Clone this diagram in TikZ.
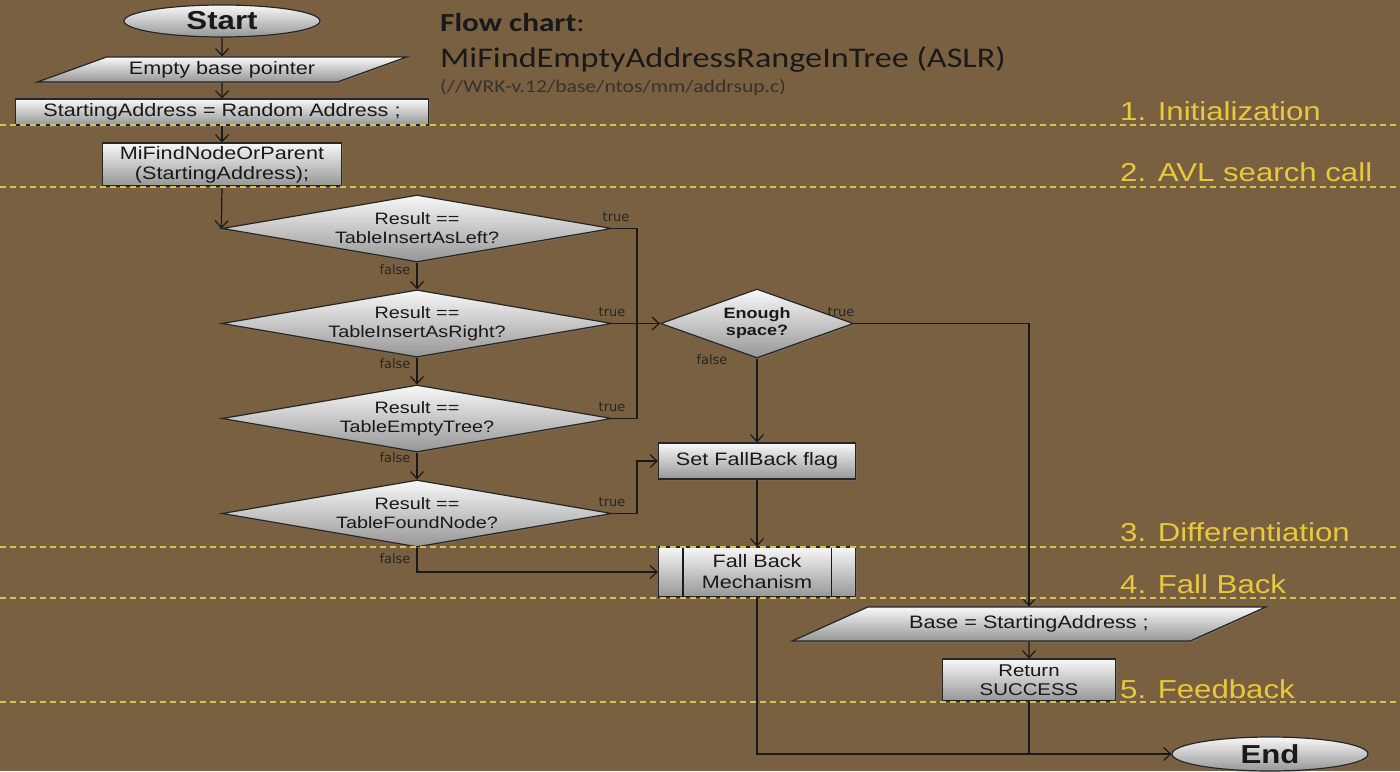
\documentclass[tikz,border=0pt]{standalone}
\usepackage{fontspec}
\setmainfont[FakeStretch=1.2]{Liberation Sans}
\newfontfamily\titlefont[FakeStretch=1.2]{Carlito}
\newfontfamily\lblfont{DejaVu Sans}
\usetikzlibrary{shapes.geometric,arrows.meta,shadows}
\definecolor{bgbrown}{RGB}{121,96,65}
\definecolor{dashyel}{RGB}{214,196,80}
\definecolor{secyel}{RGB}{232,200,60}
\definecolor{boxtop}{RGB}{248,248,248}
\definecolor{boxbot}{RGB}{150,150,150}
\definecolor{ink}{RGB}{25,25,25}
\definecolor{pathgrey}{RGB}{55,50,45}
\tikzset{
  shadebox/.style={top color=boxtop, bottom color=boxbot, draw=black!85, line width=1.2pt,
    drop shadow={shadow xshift=1.5pt, shadow yshift=-1.5pt, opacity=0.35}},
  procbox/.style={shadebox, rectangle, inner sep=2pt, align=center, text=ink,
    font=\fontsize{18}{20}\selectfont},
  parabox/.style={shadebox, trapezium, trapezium left angle=20, trapezium right angle=160,
    trapezium stretches=true, inner sep=2pt, text=ink, font=\fontsize{18}{20}\selectfont},
  decbox/.style={shadebox, diamond, inner sep=1pt, align=center, text=ink,
    font=\fontsize{16.5}{19}\selectfont},
  termbox/.style={shadebox, ellipse, inner sep=0pt, text=ink,
    font=\fontsize{26}{30}\selectfont\bfseries},
  conn/.style={draw=black!90, line width=1.2pt, -{Straight Barb[length=7pt,width=13pt]}},
  plainline/.style={draw=black!90, line width=1.2pt},
  tflbl/.style={font=\lblfont\fontsize{13}{15}\selectfont, text=black!85, inner sep=0pt},
  sectlbl/.style={font=\fontsize{26}{30}\selectfont, text=secyel, anchor=west, inner sep=0pt},
  sepline/.style={draw=dashyel, line width=1.1pt, dash pattern=on 6pt off 4pt},
}
\begin{document}
\begin{tikzpicture}[x=1pt,y=-1pt]
\useasboundingbox (0,0) rectangle (1400,771);
\fill[bgbrown] (0,0) rectangle (1400,771);

% title
\node[anchor=west, inner sep=0pt, text=ink] (title) at (440,22)
  {\titlefont\fontsize{26}{30}\selectfont\bfseries Flow chart\mdseries:};
\node[anchor=west, inner sep=0pt, text=ink] (subtitle) at (440,60)
  {\titlefont\fontsize{28.5}{32}\selectfont MiFindEmptyAddressRangeInTree (ASLR)};
\node[anchor=west, inner sep=0pt, text=pathgrey] (srcpath) at (440,87)
  {\titlefont\fontsize{18}{20}\selectfont (//WRK-v.12/base/ntos/mm/addrsup.c)};

% nodes
\node[termbox, minimum width=196, minimum height=32] (start) at (222,21) {Start};
\node[parabox, minimum width=370, minimum height=25] (ebp) at (222,69.5) {Empty base pointer};
\node[procbox, minimum width=413, minimum height=26] (sa) at (222,112) {StartingAddress = Random Address ;};
\node[procbox, minimum width=239, minimum height=43] (mf) at (222,164.5) {MiFindNodeOrParent\\(StartingAddress);};

\node[decbox, aspect=5.8, minimum width=390, minimum height=67] (d1) at (417,228.5) {Result ==\\TableInsertAsLeft?};
\node[decbox, aspect=5.8, minimum width=390, minimum height=67] (d2) at (417,323.5) {Result ==\\TableInsertAsRight?};
\node[decbox, aspect=5.8, minimum width=390, minimum height=67] (d3) at (417,418.5) {Result ==\\TableEmptyTree?};
\node[decbox, aspect=5.8, minimum width=390, minimum height=67] (d4) at (417,513.5) {Result ==\\TableFoundNode?};

\node[decbox, aspect=2.8, minimum width=193, minimum height=69, font=\fontsize{15}{17}\selectfont\bfseries] (es) at (757,323.5) {Enough\\space?};
\node[procbox, minimum width=197, minimum height=36] (sf) at (757,461) {Set FallBack flag};
\node[procbox, minimum width=197, minimum height=50, font=\fontsize{18}{21}\selectfont] (fb) at (757,572) {Fall Back\\Mechanism};
\draw[plainline] ([xshift=25pt]fb.north west) -- ([xshift=25pt]fb.south west);
\draw[plainline] ([xshift=-25pt]fb.north east) -- ([xshift=-25pt]fb.south east);

\node[parabox, minimum width=474, minimum height=34] (base) at (1029,624) {Base = StartingAddress ;};
\node[procbox, minimum width=173, minimum height=42, font=\fontsize{17}{19}\selectfont] (ret) at (1029,680) {Return\\SUCCESS};
\node[termbox, minimum width=196, minimum height=34] (endn) at (1270,754) {End};

% junction coordinates
\coordinate (j1) at (637,228.5);
\coordinate (j3) at (637,418.5);
\coordinate (j4) at (637,513.5);
\coordinate (jend) at (1029,754);

% connectors
\draw[conn] (start) -- (ebp);
\draw[conn] (ebp) -- (sa);
\draw[conn] (sa) -- (mf);
\draw[conn] (mf.south) -- (d1.west);
\draw[conn] (d1.south) -- (d2.north);
\draw[conn] (d2.south) -- (d3.north);
\draw[conn] (d3.south) -- (d4.north);
\draw[plainline] (d1.east) -- (j1) -- (j3) -- (d3.east);
\draw[conn] (d2.east) -- (es.west);
\draw[conn] (d4.east) -- (j4) |- (sf.west);
\draw[conn] (d4.south) |- (fb.west);
\draw[conn] (es.south) -- (sf.north);
\draw[conn] (sf.south) -- (fb.north);
\draw[conn] (es.east) -| (base.north);
\draw[conn] (base.south) -- (ret.north);
\draw[plainline] (ret.south) -- (jend);
\draw[conn] (fb.south) |- (endn.west);

% true / false labels
\node[tflbl] (t1) at (616,217) {true};
\node[tflbl] (t2) at (612,312) {true};
\node[tflbl] (t3) at (612,407) {true};
\node[tflbl] (t4) at (612,502) {true};
\node[tflbl] (t5) at (841,312) {true};
\node[tflbl] (f1) at (395,270) {false};
\node[tflbl] (f2) at (395,364) {false};
\node[tflbl] (f3) at (395,458) {false};
\node[tflbl] (f4) at (395,559) {false};
\node[tflbl] (f5) at (712,360) {false};

% section separators
\draw[sepline] (0,125) -- (1400,125);
\draw[sepline] (0,187) -- (1400,187);
\draw[sepline] (0,547) -- (1400,547);
\draw[sepline] (0,598) -- (1400,598);
\draw[sepline] (0,702) -- (1400,702);

\node[sectlbl] (s1) at (1120,111) {1. Initialization};
\node[sectlbl] (s2) at (1120,172) {2. AVL search call};
\node[sectlbl] (s3) at (1120,532) {3. Differentiation};
\node[sectlbl] (s4) at (1120,584) {4. Fall Back};
\node[sectlbl] (s5) at (1120,689) {5. Feedback};
\end{tikzpicture}
\end{document}
